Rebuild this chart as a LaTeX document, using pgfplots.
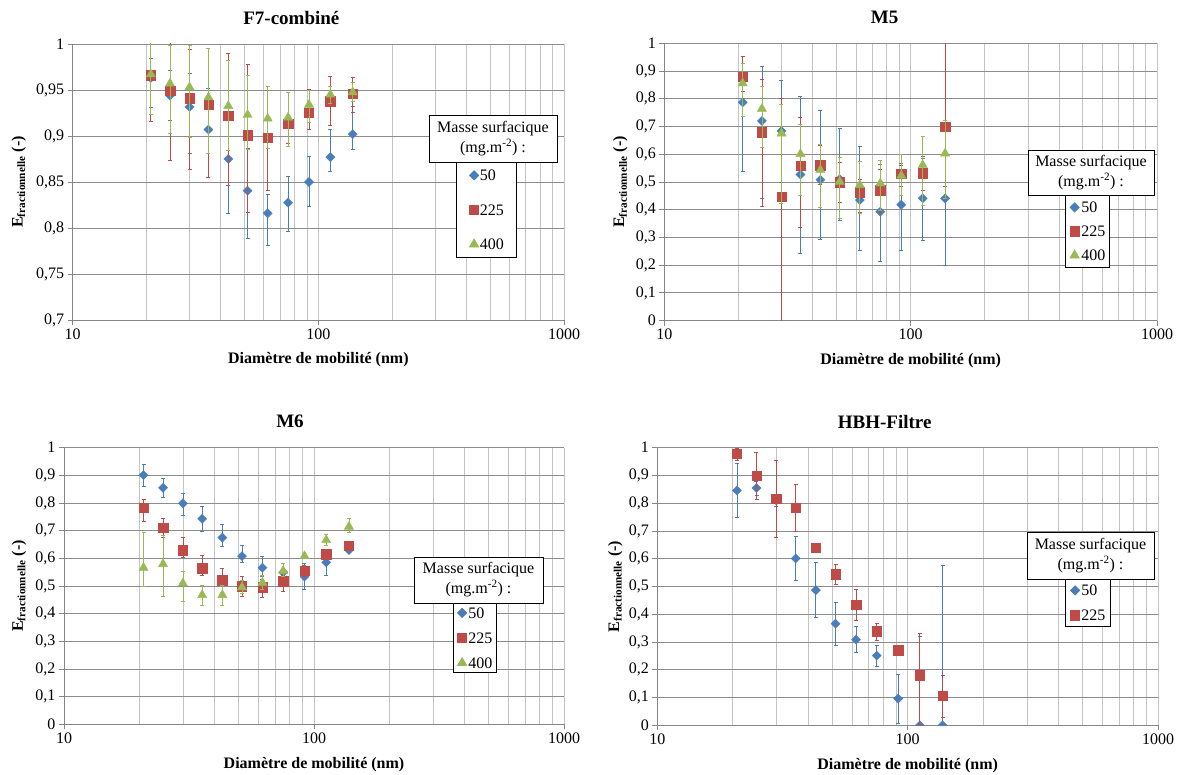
\documentclass[border=0pt]{standalone}
\usepackage{pgfplots}
\pgfplotsset{compat=1.18}
\usepackage{pgfplotstable}
\usepackage{fontspec}
\setmainfont{Liberation Serif}
\definecolor{c1}{RGB}{74,126,187}
\definecolor{c2}{RGB}{190,75,72}
\definecolor{c3}{RGB}{152,185,84}
\definecolor{axgray}{RGB}{134,134,134}
\definecolor{hgrid}{RGB}{140,140,140}
\definecolor{vgrid}{RGB}{196,196,196}

% ---------- F7-combine ----------
\pgfplotstableread{
x y ep em
20.8 0.963 0.021 0.032
24.9 0.944 0.027 0.027
29.9 0.9315 0.036 0.050
35.7 0.907 0.045 0.052
43.0 0.875 0.058 0.059
51.5 0.8406 0.046 0.052
62.2 0.816 0.020 0.035
75.3 0.8275 0.029 0.031
91.6 0.850 0.0275 0.026
111.9 0.877 0.030 0.016
138.0 0.902 0.030 0.017
}\fAa
\pgfplotstableread{
x y ep em
20.8 0.966 0.050 0.050
24.9 0.949 0.075 0.075
29.9 0.941 0.053 0.077
35.7 0.934 0.061 0.079
43.0 0.922 0.068 0.076
51.5 0.9007 0.077 0.084
62.2 0.898 0.056 0.057
75.3 0.9134 0.034 0.021
91.6 0.925 0.026 0.018
111.9 0.9377 0.027 0.026
138.0 0.946 0.018 0.020
}\fAb
\pgfplotstableread{
x y ep em
20.8 0.967 0.040 0.043
24.9 0.957 0.042 0.054
29.9 0.953 0.046 0.054
35.7 0.942 0.053 0.061
43.0 0.9326 0.050 0.048
51.5 0.923 0.043 0.038
62.2 0.919 0.035 0.033
75.3 0.920 0.027 0.031
91.6 0.934 0.016 0.019
111.9 0.945 0.009 0.010
138.0 0.9475 0.0105 0.0095
}\fAc
% ---------- M5 ----------
\pgfplotstableread{
x y ep em
20.8 0.787 0.140 0.249
24.9 0.720 0.198 0.279
29.9 0.684 0.184 0.184
35.7 0.527 0.283 0.284
43.0 0.508 0.250 0.214
51.5 0.510 0.182 0.147
62.2 0.435 0.192 0.183
75.3 0.393 0.171 0.178
91.6 0.418 0.150 0.166
111.9 0.441 0.144 0.150
138.0 0.441 0.240 0.240
}\fBa
\pgfplotstableread{
x y ep em
20.8 0.880 0.072 0.052
24.9 0.679 0.190 0.268
29.9 0.446 0.355 0.500
35.7 0.558 0.174 0.221
43.0 0.561 0.072 0.070
51.5 0.499 0.072 0.072
62.2 0.463 0.047 0.074
75.3 0.470 0.076 0.080
91.6 0.529 0.029 0.046
111.9 0.531 0.060 0.061
138.0 0.700 0.350 0.217
}\fBb
\pgfplotstableread{
x y ep em
20.8 0.856 0.072 0.120
24.9 0.764 0.082 0.139
29.9 0.675 0.103 0.252
35.7 0.601 0.105 0.148
43.0 0.543 0.093 0.136
51.5 0.501 0.088 0.132
62.2 0.489 0.087 0.102
75.3 0.495 0.082 0.096
91.6 0.523 0.077 0.073
111.9 0.561 0.105 0.144
138.0 0.603 0.120 0.162
}\fBc
% ---------- M6 ----------
\pgfplotstableread{
x y ep em
20.8 0.901 0.039 0.041
24.9 0.855 0.033 0.035
29.9 0.799 0.036 0.044
35.7 0.743 0.044 0.044
43.0 0.675 0.049 0.033
51.5 0.608 0.038 0.024
62.2 0.566 0.040 0.030
75.3 0.550 0.032 0.030
91.6 0.534 0.048 0.048
111.9 0.5855 0.030 0.046
138.0 0.630 0.010 0.010
}\fCa
\pgfplotstableread{
x y ep em
20.8 0.782 0.030 0.048
24.9 0.711 0.035 0.035
29.9 0.630 0.046 0.026
35.7 0.564 0.046 0.025
43.0 0.5205 0.044 0.047
51.5 0.499 0.035 0.035
62.2 0.495 0.030 0.036
75.3 0.517 0.020 0.037
91.6 0.555 0.020 0.020
111.9 0.6145 0.010 0.010
138.0 0.6446 0.010 0.010
}\fCb
\pgfplotstableread{
x y ep em
20.8 0.566 0.127 0.066
24.9 0.5795 0.105 0.116
29.9 0.5096 0.044 0.064
35.7 0.4675 0.035 0.036
43.0 0.4675 0.035 0.037
51.5 0.495 0.027 0.020
62.2 0.512 0.025 0.025
75.3 0.555 0.027 0.020
91.6 0.608 0.010 0.010
111.9 0.666 0.021 0.020
138.0 0.7145 0.030 0.020
}\fCc
% ---------- HBH-Filtre ----------
\pgfplotstableread{
x y ep em
20.8 0.846 0.098 0.097
24.9 0.855 0.023 0.027
29.9 0.810 0.020 0.020
35.7 0.601 0.081 0.079
43.0 0.487 0.098 0.098
51.5 0.366 0.077 0.079
62.2 0.3085 0.046 0.046
75.3 0.251 0.038 0.040
91.6 0.096 0.087 0.090
111.9 0.000 0.322 0.000
138.0 0.000 0.575 0.000
}\fDa
\pgfplotstableread{
x y ep em
20.8 0.978 0.020 0.025
24.9 0.899 0.083 0.085
29.9 0.816 0.137 0.139
35.7 0.783 0.086 0.084
43.0 0.640 0.005 0.005
51.5 0.545 0.035 0.036
62.2 0.4346 0.054 0.057
75.3 0.3385 0.029 0.031
91.6 0.271 0.002 0.002
111.9 0.180 0.150 0.180
138.0 0.107 0.073 0.077
}\fDb

\pgfplotsset{
  axis line style={draw=axgray, line width=0.9pt},
  tick style={draw=axgray, line width=0.9pt},
  every axis x grid/.style={draw=vgrid, line width=0.9pt},
  every axis y grid/.style={draw=hgrid, line width=0.9pt},
  tick label style={font=\fontsize{16}{16}\selectfont},
  every axis title/.style={at={(0.5,1)}, anchor=center, yshift=26pt, font=\bfseries\fontsize{19}{19}\selectfont},
  every axis x label/.style={at={(0.5,0)}, anchor=center, yshift=-40pt, font=\bfseries\fontsize{16}{16}\selectfont},
  every axis y label/.style={rotate=90, anchor=center, font=\bfseries\fontsize{16}{16}\selectfont},
  legend style={draw=black, line width=0.8pt, fill=white, font=\fontsize{16}{16}\selectfont,
      anchor=north west, nodes={inner sep=0pt, text height=11pt, text depth=0pt}},
  /pgf/number format/use comma,
  /pgf/number format/fixed,
  /pgf/number format/precision=2,
  /pgf/number format/assume math mode=true,
}

\pgfplotsset{
  s1/.style={color=c1, mark=square*, mark size=3.2pt, mark options={rotate=45, solid}},
  s2/.style={color=c2, mark=square*, mark size=4.7pt, mark options={solid}},
  s3/.style={color=c3, mark=triangle*, mark size=5.3pt, mark options={solid}},
}

\newcommand{\legtitle}{Masse surfacique\\(mg.m\textsuperscript{-2}) :}
\tikzset{ltitle/.style={draw=black, line width=0.8pt, fill=white, align=center, inner sep=0pt, font=\fontsize{16}{20}\selectfont}}

\begin{document}
\begin{tikzpicture}
% ---- F7-combine ----
\begin{axis}[scale only axis, anchor=south west, at={(72.7pt,455pt)}, width=491.3pt, height=276pt,
  xmode=log, xmin=10, xmax=1000,
  xtick={10,100,1000}, xticklabels={10,100,1000},
  minor xtick={20,30,40,50,60,70,80,90,200,300,400,500,600,700,800,900},
  axis lines*=left, tick align=outside, major tick length=5pt, minor tick length=0pt,
  xmajorgrids, xminorgrids, ymajorgrids, clip marker paths=true, legend cell align=left,
  xlabel={Diamètre de mobilité (nm)}, ylabel={E\textsubscript{fractionnelle} (-)},
  ymin=0.7, ymax=1, ytick={0.7,0.75,0.8,0.85,0.9,0.95,1},
  title={F7-combiné}, title style={xshift=-27pt}, ylabel style={at={(-0.110,0.5)}},
  legend image code/.code={\draw[mark repeat=2,mark phase=2,#1] plot coordinates {(0pt,0pt) (6pt,0pt) (12pt,0pt)};},
  legend style={at={(0.7802,0.5725)}, inner xsep=13pt, inner ysep=7.5pt, row sep=23.5pt,
    /tikz/every odd column/.append style={column sep=1pt}}]
\addplot[s1, only marks, error bars/.cd, y dir=both, y explicit, error bar style={line width=0.8pt}, error mark options={rotate=90, mark size=2pt, line width=0.8pt}] table[x=x, y=y, y error plus=ep, y error minus=em] {\fAa};
\addlegendentry{50}
\addplot[s2, only marks, error bars/.cd, y dir=both, y explicit, error bar style={line width=0.8pt}, error mark options={rotate=90, mark size=2pt, line width=0.8pt}] table[x=x, y=y, y error plus=ep, y error minus=em] {\fAb};
\addlegendentry{225}
\addplot[s3, only marks, error bars/.cd, y dir=both, y explicit, error bar style={line width=0.8pt}, error mark options={rotate=90, mark size=2pt, line width=0.8pt}] table[x=x, y=y, y error plus=ep, y error minus=em] {\fAc};
\addlegendentry{400}
\end{axis}
\node[ltitle, minimum width=128pt, minimum height=47pt] at (493pt,636.5pt) {\legtitle};

% ---- M5 ----
\begin{axis}[scale only axis, anchor=south west, at={(664.3pt,454.3pt)}, width=492.7pt, height=277.4pt,
  xmode=log, xmin=10, xmax=1000,
  xtick={10,100,1000}, xticklabels={10,100,1000},
  minor xtick={20,30,40,50,60,70,80,90,200,300,400,500,600,700,800,900},
  axis lines*=left, tick align=outside, major tick length=5pt, minor tick length=0pt,
  xmajorgrids, xminorgrids, ymajorgrids, clip marker paths=true, legend cell align=left,
  xlabel={Diamètre de mobilité (nm)}, ylabel={E\textsubscript{fractionnelle} (-)},
  ymin=0, ymax=1, ytick={0,0.1,0.2,0.3,0.4,0.5,0.6,0.7,0.8,0.9,1},
  title={M5}, title style={xshift=-26pt}, ylabel style={at={(-0.0893,0.5)}},
  legend image code/.code={\draw[mark repeat=2,mark phase=2,#1] plot coordinates {(0pt,0pt) (6pt,0pt) (12pt,0pt)};},
  legend style={at={(0.8133,0.4531)}, inner xsep=4.5pt, inner ysep=6.5pt, row sep=13pt,
    /tikz/every odd column/.append style={column sep=2pt}}]
\addplot[s1, only marks, error bars/.cd, y dir=both, y explicit, error bar style={line width=0.8pt}, error mark options={rotate=90, mark size=2pt, line width=0.8pt}] table[x=x, y=y, y error plus=ep, y error minus=em] {\fBa};
\addlegendentry{50}
\addplot[s2, only marks, error bars/.cd, y dir=both, y explicit, error bar style={line width=0.8pt}, error mark options={rotate=90, mark size=2pt, line width=0.8pt}] table[x=x, y=y, y error plus=ep, y error minus=em] {\fBb};
\addlegendentry{225}
\addplot[s3, only marks, error bars/.cd, y dir=both, y explicit, error bar style={line width=0.8pt}, error mark options={rotate=90, mark size=2pt, line width=0.8pt}] table[x=x, y=y, y error plus=ep, y error minus=em] {\fBc};
\addlegendentry{400}
\end{axis}
\node[ltitle, minimum width=126pt, minimum height=45pt] at (1091pt,602.5pt) {\legtitle};

% ---- M6 ----
\begin{axis}[scale only axis, anchor=south west, at={(64pt,50.7pt)}, width=500pt, height=276.6pt,
  xmode=log, xmin=10, xmax=1000,
  xtick={10,100,1000}, xticklabels={10,100,1000},
  minor xtick={20,30,40,50,60,70,80,90,200,300,400,500,600,700,800,900},
  axis lines*=left, tick align=outside, major tick length=5pt, minor tick length=0pt,
  xmajorgrids, xminorgrids, ymajorgrids, clip marker paths=true, legend cell align=left,
  xlabel={Diamètre de mobilité (nm)}, ylabel={E\textsubscript{fractionnelle} (-)},
  ymin=0, ymax=1, ytick={0,0.1,0.2,0.3,0.4,0.5,0.6,0.7,0.8,0.9,1},
  title={M6}, title style={xshift=-24pt}, ylabel style={at={(-0.09,0.5)}},
  legend image code/.code={\draw[mark repeat=2,mark phase=2,#1] plot coordinates {(0pt,0pt) (6pt,0pt) (12pt,0pt)};},
  legend style={at={(0.778,0.4385)}, inner xsep=4pt, inner ysep=4pt, row sep=14pt,
    /tikz/every odd column/.append style={column sep=1.5pt}}]
\addplot[s1, only marks, error bars/.cd, y dir=both, y explicit, error bar style={line width=0.8pt}, error mark options={rotate=90, mark size=2pt, line width=0.8pt}] table[x=x, y=y, y error plus=ep, y error minus=em] {\fCa};
\addlegendentry{50}
\addplot[s2, only marks, error bars/.cd, y dir=both, y explicit, error bar style={line width=0.8pt}, error mark options={rotate=90, mark size=2pt, line width=0.8pt}] table[x=x, y=y, y error plus=ep, y error minus=em] {\fCb};
\addlegendentry{225}
\addplot[s3, only marks, error bars/.cd, y dir=both, y explicit, error bar style={line width=0.8pt}, error mark options={rotate=90, mark size=2pt, line width=0.8pt}] table[x=x, y=y, y error plus=ep, y error minus=em] {\fCc};
\addlegendentry{400}
\end{axis}
\node[ltitle, minimum width=129pt, minimum height=46pt] at (478.5pt,195pt) {\legtitle};

% ---- HBH-Filtre ----
\begin{axis}[scale only axis, anchor=south west, at={(657.3pt,49.7pt)}, width=500.7pt, height=277.6pt,
  xmode=log, xmin=10, xmax=1000,
  xtick={10,100,1000}, xticklabels={10,100,1000},
  minor xtick={20,30,40,50,60,70,80,90,200,300,400,500,600,700,800,900},
  axis lines*=left, tick align=outside, major tick length=5pt, minor tick length=0pt,
  xmajorgrids, xminorgrids, ymajorgrids, clip marker paths=true, legend cell align=left,
  xlabel={Diamètre de mobilité (nm)}, ylabel={E\textsubscript{fractionnelle} (-)},
  ymin=0, ymax=1, ytick={0,0.1,0.2,0.3,0.4,0.5,0.6,0.7,0.8,0.9,1},
  title={HBH-Filtre}, title style={xshift=-23pt}, ylabel style={at={(-0.0839,0.5)}},
  legend image code/.code={\draw[mark repeat=2,mark phase=2,#1] plot coordinates {(0pt,0pt) (6pt,0pt) (12pt,0pt)};},
  legend style={at={(0.8143,0.527)}, inner xsep=5pt, inner ysep=5.5pt, row sep=14pt,
    /tikz/every odd column/.append style={column sep=1.5pt}}]
\addplot[s1, only marks, error bars/.cd, y dir=both, y explicit, error bar style={line width=0.8pt}, error mark options={rotate=90, mark size=2pt, line width=0.8pt}] table[x=x, y=y, y error plus=ep, y error minus=em] {\fDa};
\addlegendentry{50}
\addplot[s2, only marks, error bars/.cd, y dir=both, y explicit, error bar style={line width=0.8pt}, error mark options={rotate=90, mark size=2pt, line width=0.8pt}] table[x=x, y=y, y error plus=ep, y error minus=em] {\fDb};
\addlegendentry{225}
\end{axis}
\node[ltitle, minimum width=127pt, minimum height=47pt] at (1090.5pt,219.5pt) {\legtitle};

\pgfresetboundingbox
\path[use as bounding box] (0,0) rectangle (1183pt,775pt);
\end{tikzpicture}
\end{document}
